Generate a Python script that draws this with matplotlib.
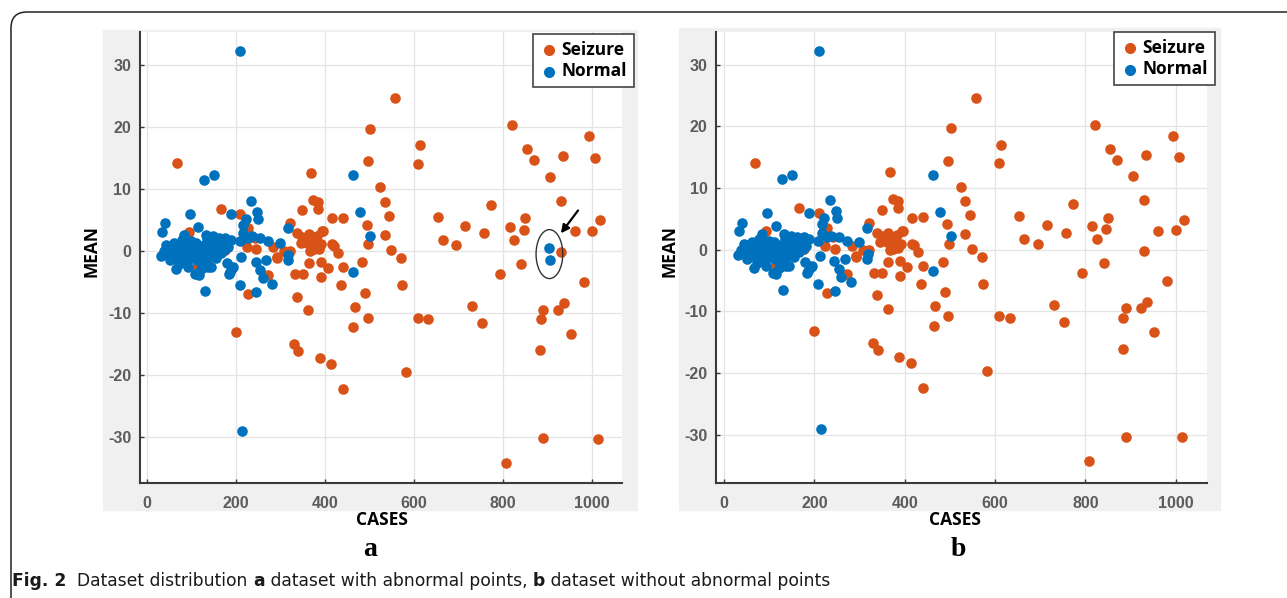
import matplotlib
matplotlib.use("Agg")
import matplotlib.pyplot as plt
from matplotlib.patches import Rectangle, FancyBboxPatch, Ellipse
from matplotlib.transforms import IdentityTransform
import numpy as np

plt.rcParams['axes.unicode_minus'] = False

# ---- data (CASES, MEAN) ----
seizure_x = [558, 821, 502, 993, 614, 854, 870, 934, 1006, 68, 496, 609, 368, 905,
             524, 534, 930, 374, 385, 385, 349, 167, 210, 772, 416, 440, 544, 653,
             849, 1017, 322, 494, 714, 815, 846, 961, 1000, 534, 758, 396, 665, 695,
             825, 497, 548, 570, 930, 420, 430, 484, 841, 406, 441, 390, 364, 332,
             350, 390, 793, 981, 573, 435, 338, 490, 228, 272, 293, 321, 284,
             338, 349, 364, 371, 382, 393, 345, 360, 371, 386, 367, 415, 378, 355,
             375, 392,
             94, 113, 176, 224, 246, 242, 228, 292, 307,
             362, 467, 496, 608, 632, 730, 753, 884, 890, 924, 937, 952, 464, 200,
             330, 340, 388, 414, 882, 583, 440, 890, 1014, 807]
seizure_y = [24.6, 20.3, 19.7, 18.5, 17.0, 16.4, 14.6, 15.3, 15.0, 14.1, 14.4, 14.0, 12.6, 11.9,
             10.2, 7.9, 8.0, 8.2, 7.9, 6.7, 6.5, 6.8, 5.9, 7.4, 5.2, 5.3, 5.6, 5.4,
             5.2, 4.9, 4.4, 4.1, 4.0, 3.9, 3.4, 3.1, 3.2, 2.6, 2.8, 3.1, 1.7, 0.9,
             1.8, 1.0, 0.1, -1.2, -0.2, 0.8, -0.4, -1.9, -2.2, -2.8, -2.6, -1.8, -2.0, -3.7,
             -3.7, -4.3, -3.7, -5.1, -5.6, -5.6, -7.4, -6.9, -7.0, -3.9, -1.1, -0.1, 0.6,
             2.8, 2.2, 2.7, 1.9, 2.4, 3.1, 1.3, 1.3, 0.8, 0.3, 0.0, 1.0, 1.5, 1.9,
             0.2, 1.0,
             3.0, -2.6, 0.1, 0.6, 0.2, 2.0, 3.6, -1.0, 0.0,
             -9.6, -9.1, -10.8, -10.8, -11.0, -9.0, -11.7, -11.0, -9.5, -9.5, -8.5, -13.4, -12.3, -13.1,
             -15.1, -16.2, -17.3, -18.3, -16.1, -19.6, -22.4, -30.3, -30.4, -34.3]

normal_x = [210, 128, 151, 462, 234, 96, 189, 248, 478, 222, 216, 250, 40, 34, 316,
            502, 114, 84, 66, 130, 208, 246, 280, 260, 254, 184, 194, 462, 316, 318,
            212, 244, 268, 272, 298, 254, 236, 208, 216, 228, 214,
            32, 38, 44, 50, 56, 62, 62, 66, 72, 76, 80, 84, 88, 92, 96, 100, 104, 106,
            110, 112, 116, 120, 124, 128, 132, 136, 138, 142, 144, 148, 150, 154, 156,
            160, 162, 166, 170, 174, 176, 180, 182, 186, 188, 192, 52, 44, 92, 108,
            116, 122, 137, 144, 60, 78, 132, 72, 92]
normal_y = [32.3, 11.4, 12.2, 12.2, 8.1, 6.0, 5.9, 6.3, 6.2, 5.1, 4.1, 5.1, 4.4, 3.0, 3.6,
            2.3, 3.9, 2.6, -3.0, -6.5, -5.6, -6.6, -5.3, -4.4, -3.1, -3.7, -2.7, -3.4, -1.5, -0.7,
            -1.0, -1.8, -1.5, 1.5, 1.3, 2.0, 2.3, 1.5, 2.8, 2.0, -29.1,
            -0.8, -0.1, 0.2, -0.3, -1.1, 1.3, 0.1, -0.7, 0.6, -0.2, -1.4, 1.2, 0.1, -0.7, 0.6, 1.5, -0.4, 0.5,
            1.3, -1.5, 0.1, -0.7, 0.8, -2.6, -1.8, 1.7, -0.2, -1.0, 0.8, 2.3, -0.2, 1.5, -1.2,
            0.6, 2.0, -0.4, 1.5, 0.1, 2.0, -2.0, 0.6, -3.4, 1.7, -2.8, -1.5, 0.9, -1.5, -3.7,
            -3.9, -3.0, -2.6, -2.6, -0.4, 1.7, 2.5, -2.2, -2.6]

# the two circled normal points that appear only in panel a
abnormal_x = [902, 906]
abnormal_y = [0.4, -1.5]

x_ticks = [0, 200, 400, 600, 800, 1000]
y_ticks = [-30, -20, -10, 0, 10, 20, 30]

SEIZURE_C = '#D95319'
NORMAL_C = '#0072BD'
W, H = 1287, 598

fig = plt.figure(figsize=(W / 100, H / 100), dpi=100)


def frac_rect(x0, y0, x1, y1):
    # pixel box (top-left origin) -> figure fraction [l, b, w, h]
    return [x0 / W, 1 - y1 / H, (x1 - x0) / W, (y1 - y0) / H]


def fig_xy(x, y):
    return x / W, 1 - y / H


def make_panel(grey, box, xlim, ylim, legend_tr, xlab_xy, ylab_xy, letter_xy, letter,
               sx, sy, nx, ny):
    g = frac_rect(*grey)
    fig.add_artist(Rectangle(g[:2], g[2], g[3], transform=fig.transFigure,
                             color='#f0f0f0', zorder=-5))
    ax = fig.add_axes(frac_rect(*box))
    ax.set_facecolor('white')
    ax.scatter(sx, sy, s=58, c=SEIZURE_C, linewidths=0, label='Seizure', zorder=3)
    ax.scatter(nx, ny, s=58, c=NORMAL_C, linewidths=0, label='Normal', zorder=3)
    ax.set_xlim(*xlim)
    ax.set_ylim(*ylim)
    ax.set_xticks(x_ticks)
    ax.set_yticks(y_ticks)
    ax.grid(True, color='#e4e4e4', lw=0.9)
    ax.set_axisbelow(True)
    for s in ('top', 'right'):
        ax.spines[s].set_visible(False)
    for s in ('left', 'bottom'):
        ax.spines[s].set_color('#3a3a3a')
        ax.spines[s].set_linewidth(1.5)
    ax.tick_params(direction='in', length=3, width=1, color='#3a3a3a',
                   labelsize=11.5, labelcolor='#5c5c5c')
    ax.tick_params(axis='x', pad=9)
    ax.tick_params(axis='y', pad=6)
    for t in ax.get_xticklabels() + ax.get_yticklabels():
        t.set_family('Liberation Sans')
        t.set_fontweight('bold')
    leg = ax.legend(loc='upper right', bbox_to_anchor=fig_xy(*legend_tr),
                    bbox_transform=fig.transFigure, borderaxespad=0, fancybox=False,
                    framealpha=1, edgecolor='#444444', handletextpad=0.25, borderpad=0.4,
                    labelspacing=0.2, handlelength=1.0, markerscale=1.05,
                    prop={'family': 'Open Sans', 'weight': 'bold', 'size': 12.5})
    leg.get_frame().set_linewidth(1.2)
    fig.text(*fig_xy(*xlab_xy), 'CASES', ha='center', va='center', fontsize=12.5,
             fontweight='bold', family='Open Sans')
    fig.text(*fig_xy(*ylab_xy), 'MEAN', ha='center', va='center', fontsize=12.5,
             fontweight='bold', family='Open Sans', rotation=90)
    fig.text(*fig_xy(*letter_xy), letter, ha='center', va='baseline', fontsize=20,
             fontweight='bold', family='Liberation Serif')
    return ax


ax_a = make_panel((103, 30, 637, 510), (139.5, 32, 622, 483), (-16.6, 1067), (-37.5, 35.3),
                  (634, 34), (382, 520), (92, 251), (370, 556), 'a',
                  seizure_x, seizure_y, normal_x + abnormal_x, normal_y + abnormal_y)

# circle and arrow marking the abnormal points
cx, cy = np.mean(abnormal_x), np.mean(abnormal_y)
ax_a.add_patch(Ellipse((cx, cy), 60, 7.9, fill=False, ec='#333333', lw=1.0, zorder=4))
ax_a.annotate('', xy=(cx + 22, cy + 3.0), xytext=(cx + 68, cy + 7.4),
              arrowprops=dict(arrowstyle='-|>', color='black', lw=1.6, mutation_scale=12),
              zorder=5)

ax_b = make_panel((679, 28, 1220, 510), (716, 32, 1207, 483), (-17.7, 1069), (-37.8, 35.3),
                  (1215, 32), (955, 520), (670, 251), (958, 556), 'b',
                  seizure_x, seizure_y, normal_x, normal_y)

# rounded frame around the figure (open to the right and bottom edges)
fig.add_artist(FancyBboxPatch((11, -60), 1500, 586 + 60, boxstyle='round,pad=0,rounding_size=16',
                              transform=IdentityTransform(), fill=False, ec='#222222', lw=1.1,
                              zorder=10))

# caption built piece by piece
pieces = [('Fig. 2', 'bold'), ('  Dataset distribution ', 'normal'), ('a', 'bold'),
          (' dataset with abnormal points, ', 'normal'), ('b', 'bold'),
          (' dataset without abnormal points', 'normal')]
renderer = fig.canvas.get_renderer()
x = 12
for txt, wt in pieces:
    t = fig.text(*fig_xy(x, 586), txt, ha='left', va='baseline', fontsize=12.3,
                 fontweight=wt, family='DejaVu Sans', color='#1a1a1a')
    x += t.get_window_extent(renderer).width

fig.savefig('out.png', dpi=100)
